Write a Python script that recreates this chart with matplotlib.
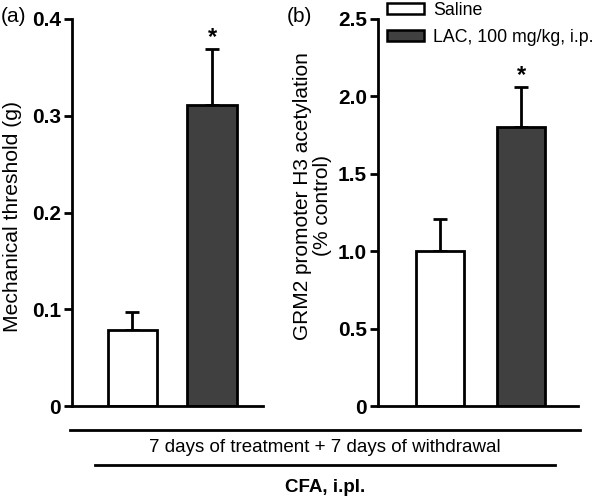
import matplotlib
matplotlib.use("Agg")
import matplotlib.pyplot as plt
from matplotlib.patches import Patch
from matplotlib.lines import Line2D

plt.rcParams['font.family'] = ['Liberation Sans', 'DejaVu Sans']

groups = ["Saline", "LAC, 100 mg/kg, i.p."]
colors = ["white", "#404040"]

thresh_vals = [0.079, 0.311]
thresh_err = [0.018, 0.058]
acet_vals = [1.0, 1.8]
acet_err = [0.21, 0.26]

a_ticks = [0, 0.1, 0.2, 0.3, 0.4]
a_ticklabels = ["0", "0.1", "0.2", "0.3", "0.4"]
b_ticks = [0, 0.5, 1.0, 1.5, 2.0, 2.5]
b_ticklabels = ["0", "0.5", "1.0", "1.5", "2.0", "2.5"]

W, H = 600, 499
fig = plt.figure(figsize=(6, 4.99), dpi=100)

def px_axes(l, r, t, b):
    return fig.add_axes([l / W, 1 - b / H, (r - l) / W, (b - t) / H])

def style(ax, ticks, labels, ymax):
    ax.set_ylim(0, ymax)
    ax.set_yticks(ticks)
    ax.set_yticklabels(labels, fontweight='bold', fontsize=15)
    ax.set_xticks([])
    for s in ['top', 'right']:
        ax.spines[s].set_visible(False)
    for s in ['left', 'bottom']:
        ax.spines[s].set_linewidth(2)
    ax.tick_params(axis='y', width=2, length=6, pad=2)

def draw(ax, vals, errs, width, star_off):
    xs = range(len(vals))
    ax.bar(xs, vals, width=width, color=colors, edgecolor='black', linewidth=2, zorder=2)
    for x, v, e in zip(xs, vals, errs):
        ax.errorbar([x], [v], yerr=[[0], [e]], fmt='none', ecolor='black',
                    elinewidth=2, capsize=5, capthick=2, zorder=1)
    ax.text(1, vals[1] + errs[1] + star_off, "*", ha='center', va='bottom',
            fontsize=17, fontweight='bold')

axa = px_axes(72, 263, 19, 406)
draw(axa, thresh_vals, thresh_err, 0.625, 0.0)
axa.set_xlim(-0.76, 1.64)
style(axa, a_ticks, a_ticklabels, 0.4)
fig.text(13 / W, 1 - 216 / H, "Mechanical threshold (g)", fontsize=15.2,
         rotation=90, ha='center', va='center')

axb = px_axes(378, 578, 19, 406)
draw(axb, acet_vals, acet_err, 0.59, 0.0)
axb.set_xlim(-0.77, 1.70)
style(axb, b_ticks, b_ticklabels, 2.5)
fig.text(302 / W, 1 - 196 / H, "GRM2 promoter H3 acetylation", fontsize=15,
         rotation=90, ha='center', va='center')
fig.text(322 / W, 1 - 205 / H, "(% control)", fontsize=15,
         rotation=90, ha='center', va='center')

handles = [Patch(facecolor=c, edgecolor='black', linewidth=1.8) for c in colors]
fig.legend(handles, groups, loc='upper left', bbox_to_anchor=(387 / W, 1 - 2 / H),
           frameon=False, fontsize=12.8, handlelength=2.1, handleheight=0.6,
           handletextpad=0.5, labelspacing=0.56, borderaxespad=0, borderpad=0)

fig.text(1 / W, 1 - 17 / H, "(a)", fontsize=15, va='center', ha='left')
fig.text(287 / W, 1 - 17 / H, "(b)", fontsize=15, va='center', ha='left')

fig.add_artist(Line2D([70 / W, 580 / W], [1 - 430 / H, 1 - 430 / H], color='black', linewidth=2))
fig.text(325 / W, 1 - 447 / H, "7 days of treatment + 7 days of withdrawal",
         fontsize=13.5, ha='center', va='center')
fig.add_artist(Line2D([95 / W, 555 / W], [1 - 465 / H, 1 - 465 / H], color='black', linewidth=2))
fig.text(325 / W, 1 - 487 / H, "CFA, i.pl.", fontsize=13.5, fontweight='bold',
         ha='center', va='center')

fig.savefig("out.png", dpi=100)
